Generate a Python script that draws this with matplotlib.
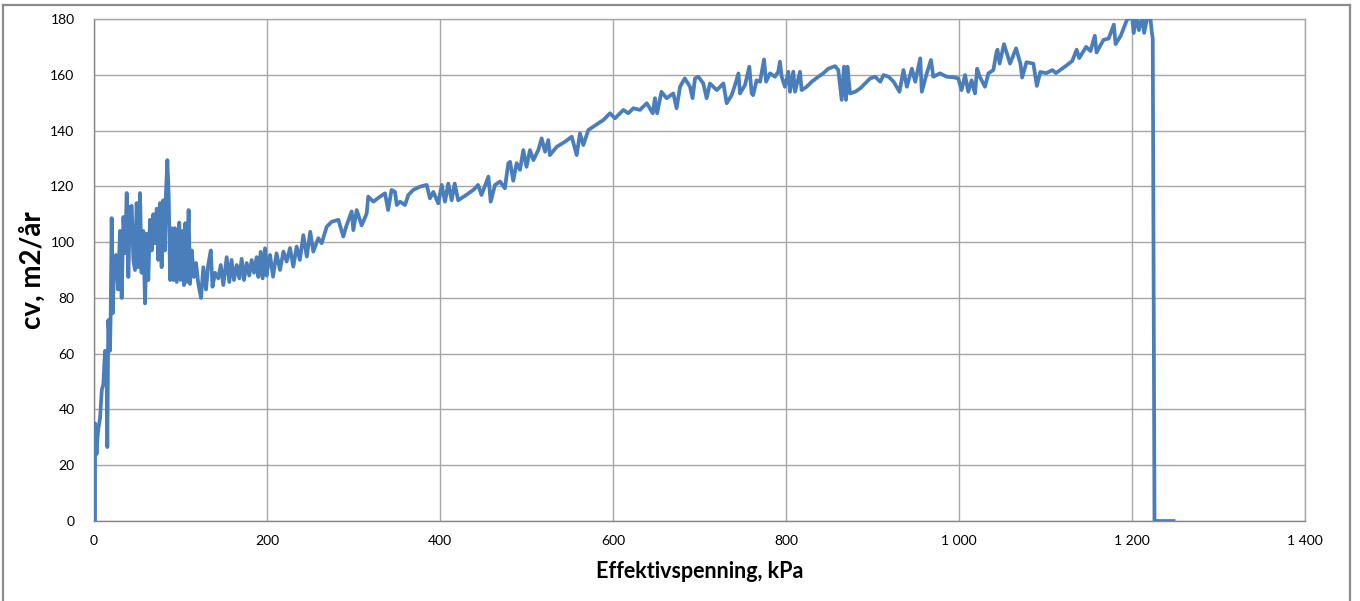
import matplotlib
matplotlib.use("Agg")
import matplotlib.pyplot as plt
from matplotlib.lines import Line2D

# effective stress (kPa) and cv (m2/year)
stress_kpa = [
    # 0 - 200
    0.5, 1.2, 1.2, 3, 3.8, 5, 7, 9, 10.8, 12.7, 14.6, 15.4, 16.5, 18.5, 19.3, 20.4,
    21.6, 23, 25.4, 28, 30, 32, 34, 36, 37.8, 39.7, 41.6, 43.6, 45.5, 47.4, 49.3,
    51.2, 53.2, 55, 57, 59, 61, 62.8, 64.7, 66.7, 68.6, 70.5, 72.5, 74.3, 76.3,
    78.2, 80, 82, 83, 84.8, 86.4, 88, 89.8, 91.7, 93.6, 95.6, 98.6, 100, 102.5,
    104, 105.6, 107, 109.4, 111, 113, 115.6, 118, 120.6, 123.7, 126.4, 129.5, 132,
    135, 137, 140, 143.7, 146.5, 149.5, 153.4, 156.4, 159, 161.8, 165, 168, 170.7,
    173.4, 176.5, 179.5, 182.3, 185, 188, 190, 192.7, 195, 197.7, 199.6, 201.5,
    # 200 - 490
    203.5, 207, 211, 215, 219, 222.7, 226.6, 230.4, 234.3, 238, 242, 246, 250,
    253.5, 259.3, 263.2, 269, 274.8, 282.5, 288.2, 292, 297.9, 299.8, 303.7, 309.4,
    315.3, 317, 323, 330.6, 336.4, 340, 344, 348, 350, 353.8, 359.5, 363.4, 369,
    376.9, 384.6, 388.4, 392.3, 398, 402, 405.8, 409.6, 413.5, 417, 421, 430.8,
    438.5, 444, 448, 456, 458.6, 463.6, 469.4, 475, 479, 481, 484.7, 488.6, 492.5,
    # 490 - 770
    496.3, 500, 504, 508, 513.6, 517.5, 521.4, 525.2, 527, 535, 544.5, 552.3, 558,
    561.8, 565.7, 571.5, 577.2, 583, 589, 596.5, 602.3, 612, 617.7, 623.5, 631.2,
    639, 646, 648.5, 651, 656, 662, 669.7, 673.5, 677.5, 683, 689, 692, 694.8,
    698.6, 704.4, 708.3, 712, 720, 727.6, 731.4, 737.2, 741, 745, 746.8, 752.6,
    757.6, 760.3, 762, 766, 770,
    # 770 - 1040
    774.6, 777, 781.5, 787.3, 791, 793, 795, 798.8, 802.7, 804.6, 808.4, 810.4,
    816.2, 818, 823.9, 829.7, 837.4, 843, 849, 856.7, 860.5, 864.4, 867, 869.4,
    871, 874, 880, 885.7, 891.5, 897.3, 903, 909, 912.8, 918.6, 924.4, 931.2,
    935.8, 939.7, 945.5, 949.4, 955.2, 957, 962.7, 967.6, 970.3, 978, 985.8, 993.4,
    999.2, 1003, 1007, 1010.7, 1014.6, 1018.5, 1021, 1024, 1030, 1034, 1039.7,
    # 1040 - end
    1043.5, 1044.5, 1047, 1052, 1059, 1066, 1071, 1073, 1078, 1086, 1090, 1094,
    1101, 1108, 1112, 1117, 1125, 1131, 1136, 1139, 1147, 1152, 1157, 1159, 1167,
    1173, 1179, 1181, 1187, 1194, 1200, 1202, 1205, 1208, 1212, 1214, 1218, 1221,
    1223, 1224, 1226, 1248,
]
cv = [
    # 0 - 200
    0, 0, 35, 24, 29, 33, 37, 47, 49, 61, 54, 26.5, 72, 61, 74.5, 108.6,
    74.5, 87.5, 95.4, 83, 104, 80, 109, 96, 117.6, 87.5, 112.6, 113, 93.6, 90, 114,
    91, 117.6, 89, 104, 78, 103, 86.4, 108, 97, 110, 99.6, 112, 93.6, 114,
    91, 115, 97, 116, 129.4, 116, 86.4, 105, 86.4, 105, 85.7, 107, 86.4, 104,
    84.6, 106.8, 85.7, 111.5, 85, 97, 87.5, 92.5, 85, 80, 91, 83, 91.8,
    97, 84, 89, 87, 91.8, 84.6, 94.6, 85.7, 93.6, 86.4, 91.8, 87, 94,
    86.4, 92.5, 88, 93.6, 89, 94.6, 87.5, 96.5, 87, 97.8, 88, 92.5,
    # 200 - 490
    95.4, 87.6, 96, 90, 96.6, 93, 97.9, 91.2, 98.4, 93.6, 102.5, 94.8, 103.7,
    96.6, 101.4, 99.6, 105.5, 107.3, 108, 102, 106, 111, 104.3, 111.5, 106,
    110.3, 116.3, 114.5, 116.3, 117.5, 111.5, 118.7, 118, 113.3, 114.5, 113.3, 116.9, 118.7,
    119.9, 120.5, 115.7, 118, 113.9, 120.5, 114.5, 121, 115, 121, 115, 117,
    118.7, 120.5, 116.9, 123.5, 114.5, 120.5, 121.7, 119.3, 128.3, 128.8, 122, 128.3, 125.9,
    # 490 - 770
    133, 127, 133, 129.4, 133, 137.2, 132.4, 136.6, 131.2, 134.2, 136, 137.8, 131.2,
    139, 134.8, 140.2, 141.4, 142.6, 143.8, 146.2, 144.4, 147.4, 146.2, 148, 147.4,
    149.8, 146.2, 151.6, 146.2, 153.9, 151.6, 153.3, 148, 155.7, 158.7, 155.7, 151.6, 158.7,
    159.3, 156.9, 151.6, 156.9, 154.5, 156.9, 149.8, 152.7, 156.3, 160.5, 153.3, 156.3,
    162.9, 153.3, 152.7, 158, 157.5,
    # 770 - 1040
    165.5, 157.5, 160.5, 159.3, 161.1, 164.7, 159.3, 155.7, 161.1, 153.9, 161.1, 153.9,
    161.1, 154.5, 155.7, 157.5, 159.3, 160.5, 162.2, 163.1, 161.7, 151, 162.9, 151,
    162.9, 153.3, 153.9, 155.1, 156.9, 158.7, 159.3, 157.5, 159.9, 159.3, 157.5, 153.9,
    161.7, 155.7, 162.2, 157.5, 165.9, 153.9, 160.5, 165.3, 159.3, 160.5, 159.3, 159.1,
    158.7, 154.5, 159.9, 153.9, 158, 153.3, 162.2, 159.3, 155.7, 160.5, 161.7,
    # 1040 - end
    168.3, 169, 164, 171, 164, 169.5, 164, 159, 164.5, 164, 156, 161,
    160.6, 161.7, 160.6, 161.7, 163.5, 165, 169, 166, 170, 168.5, 174, 168, 172.5,
    173, 178, 171, 174, 179.6, 181, 175, 181, 176, 181, 175, 181, 181,
    175, 173, 0, 0,
]

x_ticks = [0, 200, 400, 600, 800, 1000, 1200, 1400]
x_tick_labels = ["0", "200", "400", "600", "800", "1 000", "1 200", "1 400"]
y_ticks = [0, 20, 40, 60, 80, 100, 120, 140, 160, 180]

plt.rcParams["font.family"] = ["Lato", "DejaVu Sans"]

fig = plt.figure(figsize=(13.6, 6.01), dpi=100)
ax = fig.add_axes([94 / 1360, 80 / 601, 1211 / 1360, 502 / 601])

ax.plot(stress_kpa, cv, color="#4a7ebb", lw=2.7, zorder=3)

ax.set_xlim(0, 1400)
ax.set_ylim(0, 180)
ax.set_xticks(x_ticks, x_tick_labels)
ax.set_yticks(y_ticks)
ax.tick_params(length=0, labelsize=10, pad=10)
ax.tick_params(axis="y", pad=14)
ax.grid(True, color="#a6a6a6", lw=1.0, zorder=0)
for side, sp in ax.spines.items():
    sp.set_color("#868686" if side in ("left", "bottom") else "#a6a6a6")
    sp.set_linewidth(1.0)

ax.set_xlabel("Effektivspenning, kPa", fontsize=15.5, fontweight="bold", labelpad=10)
ax.set_ylabel("cv, m2/år", fontsize=20, fontweight="bold", labelpad=3)

# outer chart frame (cropped at the bottom)
frame = dict(color="#8c8c8c", lw=1.6, transform=fig.transFigure)
fig.add_artist(Line2D([3 / 1360, 1350 / 1360], [1 - 5 / 601] * 2, **frame))
fig.add_artist(Line2D([3 / 1360] * 2, [0, 1 - 5 / 601], **frame))
fig.add_artist(Line2D([1350 / 1360] * 2, [0, 1 - 5 / 601], **frame))

fig.savefig("out.png")
